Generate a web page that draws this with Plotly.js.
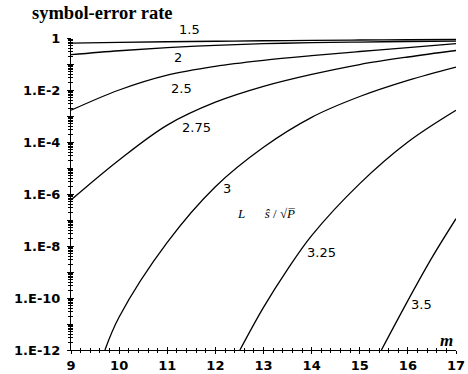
<!DOCTYPE html>
<html>
<head>
<meta charset="utf-8">
<script src="https://cdn.plot.ly/plotly-3.0.1.min.js"></script>
<style>html,body{margin:0;padding:0;background:#fff;}#chart{width:468px;height:374px;}</style>
</head>
<body>
<div id="chart"></div>
<script>
// m values and symbol-error rates for each curve (label = L*s/sqrt(P))
const curveLabels = ["1.5", "2", "2.5", "2.75", "3", "3.25", "3.5"];
const m_15 = [9, 10, 11, 12, 13, 14, 15, 16, 17];
const ser_15 = [0.631, 0.676, 0.716, 0.750, 0.785, 0.813, 0.836, 0.857, 0.877];
const m_2 = [9, 10, 11, 12, 13, 14, 15, 16, 17];
const ser_2 = [0.229, 0.324, 0.427, 0.525, 0.603, 0.661, 0.700, 0.733, 0.753];
const m_25 = [9, 10, 11, 12, 13, 14, 15, 16, 17];
const ser_25 = [1.66e-3, 1.0e-2, 0.0372, 0.0813, 0.138, 0.209, 0.302, 0.427, 0.603];
const m_275 = [9, 10, 11, 12, 13, 14, 15, 16, 17];
const ser_275 = [5.9e-7, 2.04e-5, 4.47e-4, 3.39e-3, 0.0138, 0.0398, 0.0955, 0.186, 0.331];
const m_3 = [9.705, 10, 11, 12, 13, 14, 15, 16, 17];
const ser_3 = [1e-12, 1.86e-11, 1.38e-8, 1.91e-6, 6.31e-5, 8.91e-4, 5.62e-3, 0.0234, 0.0759];
const m_325 = [12.51, 13, 13.5, 14, 15, 16, 17];
const ser_325 = [1e-12, 4.37e-11, 1.26e-9, 2.51e-8, 2.51e-6, 1.0e-4, 1.66e-3];
const m_35 = [15.45, 16, 16.5, 17];
const ser_35 = [1e-12, 7.94e-11, 3.55e-9, 1.12e-7];

const xTicks = [9, 10, 11, 12, 13, 14, 15, 16, 17];
const yTickVals = [1, 1e-1, 1e-2, 1e-3, 1e-4, 1e-5, 1e-6, 1e-7, 1e-8, 1e-9, 1e-10, 1e-11, 1e-12];
const yTickText = ["1", "", "1.E-2", "", "1.E-4", "", "1.E-6", "", "1.E-8", "", "1.E-10", "", "1.E-12"];

const series = [
  [m_15, ser_15], [m_2, ser_2], [m_25, ser_25], [m_275, ser_275],
  [m_3, ser_3], [m_325, ser_325], [m_35, ser_35]
];

const traces = series.map((s, i) => ({
  x: s[0], y: s[1], name: curveLabels[i], type: 'scatter', mode: 'lines',
  line: {color: '#000', width: 1.3, shape: 'spline', smoothing: 1},
  hoverinfo: 'skip',
  xaxis: i === 6 ? 'x2' : 'x', yaxis: i === 6 ? 'y2' : 'y'
}));

const tickFont = {family: 'DejaVu Sans', size: 13, color: '#000', weight: 'bold'};
const baseX = {
  range: [9, 17], tickmode: 'array', tickvals: xTicks, showline: true, linecolor: '#000', linewidth: 1,
  showgrid: false, zeroline: false, tickcolor: '#000', tickwidth: 1, fixedrange: true
};
const baseY = {
  type: 'log', range: [-12, 0], tickmode: 'array', tickvals: yTickVals, ticktext: yTickText,
  showline: true, linecolor: '#000', linewidth: 1, showgrid: false, zeroline: false,
  tickcolor: '#000', tickwidth: 1, fixedrange: true
};

const labelFont = {family: 'DejaVu Sans', size: 13, color: '#000'};
function lab(t, x, y) {
  return {text: t, xref: 'paper', yref: 'paper', x: x, y: y, xanchor: 'center', yanchor: 'middle',
          showarrow: false, font: labelFont};
}
const serif = 'Liberation Serif, Times New Roman, DejaVu Serif, serif';

const layout = {
  width: 468, height: 374,
  margin: {l: 71, r: 12, t: 38, b: 24, pad: 0},
  paper_bgcolor: '#fff', plot_bgcolor: '#fff',
  showlegend: false,
  font: {family: serif},
  xaxis: Object.assign({}, baseX, {
    ticks: 'outside', ticklen: 3, tickfont: tickFont,
    minor: {dtick: 0.2, tick0: 9, ticks: 'outside', ticklen: 2, tickcolor: '#000', tickwidth: 1}
  }),
  yaxis: Object.assign({}, baseY, {
    ticks: 'outside', ticklen: 3, tickfont: tickFont, ticklabelstandoff: 4,
    minor: {dtick: 'D1', ticks: 'outside', ticklen: 2, tickcolor: '#000', tickwidth: 1}
  }),
  xaxis2: Object.assign({}, baseX, {
    overlaying: 'x', anchor: 'y2', ticks: 'inside', ticklen: 3, showticklabels: false,
    minor: {dtick: 0.2, tick0: 9, ticks: 'inside', ticklen: 2, tickcolor: '#000', tickwidth: 1}
  }),
  yaxis2: Object.assign({}, baseY, {
    overlaying: 'y', anchor: 'x2', side: 'left', ticks: 'inside', ticklen: 3, showticklabels: false,
    minor: {dtick: 'D1', ticks: 'inside', ticklen: 2, tickcolor: '#000', tickwidth: 1}
  }),
  annotations: [
    {text: 'symbol-error rate', xref: 'paper', yref: 'paper', x: -0.106, y: 1.08, xanchor: 'left', yanchor: 'middle',
     showarrow: false, font: {family: serif, size: 18.5, color: '#000', weight: 700}},
    lab('1.5', 0.309, 1.026),
    lab('2', 0.278, 0.938),
    lab('2.5', 0.288, 0.839),
    lab('2.75', 0.325, 0.714),
    lab('3', 0.405, 0.519),
    lab('3.25', 0.651, 0.313),
    lab('3.5', 0.91, 0.145),
    {text: '<i>L</i>      <i>ŝ</i> / √<i>P̅</i>', xref: 'paper', yref: 'paper', x: 0.427, y: 0.438, xanchor: 'left', yanchor: 'middle',
     showarrow: false, font: {family: serif, size: 13, color: '#000'}},
    {text: '<i>m</i>', xref: 'paper', yref: 'paper', x: 0.975, y: 0.03, xanchor: 'center', yanchor: 'middle',
     showarrow: false, font: {family: serif, size: 17, color: '#000', weight: 700}}
  ]
};

Plotly.newPlot('chart', traces, layout, {staticPlot: true, displayModeBar: false});
</script>
</body>
</html>
